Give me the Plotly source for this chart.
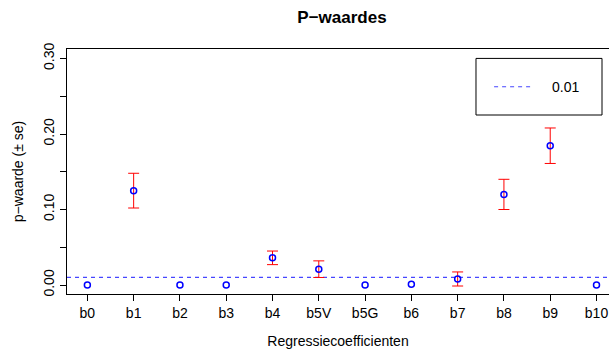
import plotly.graph_objects as go

categories = ["b0", "b1", "b2", "b3", "b4", "b5V", "b5G", "b6", "b7", "b8", "b9", "b10"]
p_values = [0.0, 0.125, 0.0, 0.0, 0.036, 0.021, 0.0, 0.001, 0.008, 0.120, 0.1845, 0.0]
se_values = [0.0, 0.023, 0.0, 0.0, 0.009, 0.011, 0.0, 0.0, 0.0093, 0.020, 0.0235, 0.0]
threshold = 0.01
y_tick_vals = [0.0, 0.05, 0.10, 0.15, 0.20, 0.25, 0.30]
y_tick_text = ["0.00", "", "0.10", "", "0.20", "", "0.30"]

FONT = "Liberation Sans, Arial, sans-serif"
xpos = list(range(len(categories)))
# R's arrows() skips zero-length bars; only draw bars where se > 0
idx = [i for i, s in enumerate(se_values) if s > 0]

fig = go.Figure()
# threshold line
fig.add_trace(go.Scatter(
    x=[-0.44, 11.27], y=[threshold, threshold], mode="lines",
    line=dict(color="rgb(70,70,255)", width=1.2, dash="4px,4px"),
    showlegend=False, hoverinfo="skip"))
# error bars
fig.add_trace(go.Scatter(
    x=[xpos[i] for i in idx], y=[p_values[i] for i in idx], mode="markers",
    marker=dict(size=1, opacity=0),
    error_y=dict(type="data", array=[se_values[i] for i in idx], visible=True,
                 color="red", thickness=1, width=5.5),
    showlegend=False, hoverinfo="skip"))
# points
fig.add_trace(go.Scatter(
    x=xpos, y=p_values, mode="markers",
    marker=dict(symbol="circle-open", size=6, color="blue", line=dict(width=1.5, color="blue")),
    showlegend=False))

# legend box (manual)
lx0, lx1, ly0, ly1 = 0.7546, 0.9871, 0.7306, 0.9616
fig.add_shape(type="rect", xref="paper", yref="paper", x0=lx0, x1=lx1, y0=ly0, y1=ly1,
              line=dict(color="black", width=1), fillcolor="white", layer="above")
fig.add_shape(type="line", xref="paper", yref="paper", x0=0.788, x1=0.857, y0=0.846, y1=0.846,
              line=dict(color="rgb(70,70,255)", width=1.2, dash="4px,4px"), layer="above")
fig.add_annotation(xref="paper", yref="paper", x=0.919, y=0.846, text=str(threshold),
                   showarrow=False, font=dict(family=FONT, size=14, color="black"),
                   xanchor="center", yanchor="middle")

fig.update_layout(
    width=609, height=349,
    margin=dict(l=67, r=0, t=49, b=55),
    paper_bgcolor="white", plot_bgcolor="white",
    title=dict(text="<b>P−waardes</b>", x=(342 / 609), xanchor="center", y=1 - 17 / 349, yanchor="middle",
               font=dict(family=FONT, size=17, color="black")),
    font=dict(family=FONT, size=14, color="black"),
    xaxis=dict(range=[-0.44, 11.27], tickvals=xpos, ticktext=categories,
               showline=True, linecolor="black", linewidth=1, mirror=True,
               ticks="outside", ticklen=6, tickcolor="black", showgrid=False, zeroline=False,
               title=dict(text="Regressiecoefficienten", standoff=16, font=dict(size=14))),
    yaxis=dict(range=[-0.0119, 0.3126], tickvals=y_tick_vals, ticktext=y_tick_text,
               tickangle=-90, showline=True, linecolor="black", linewidth=1, mirror=False,
               ticks="outside", ticklen=6, tickcolor="black", showgrid=False, zeroline=False,
               title=dict(text="p−waarde (± se)", standoff=14, font=dict(size=14))),
)

fig.write_html("out.html")
